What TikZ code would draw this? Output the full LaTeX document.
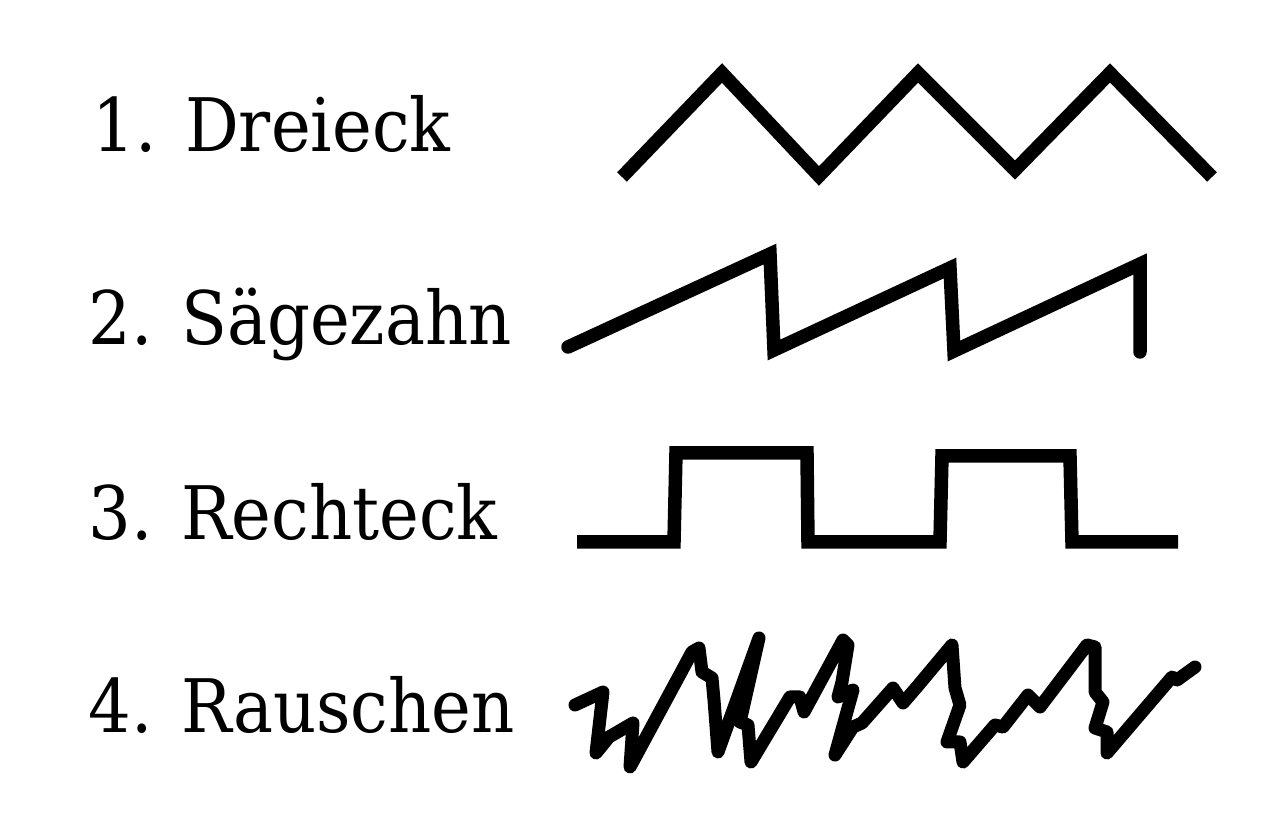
\documentclass[tikz,border=0pt]{standalone}
\usepackage{fontspec}
\setmainfont{DejaVu Serif}
\usepackage{tikz}
\usetikzlibrary{positioning}

\begin{document}
\begin{tikzpicture}[x=0.1mm,y=-0.1mm,every node/.style={anchor=base west,inner sep=0pt,xscale=0.91,transform shape,font=\fontsize{21}{25}\selectfont},wave/.style={line width=1.35mm,line join=miter}]
\useasboundingbox (0,0) rectangle (1282,828);

\node (t1) at (92,152) {1. Dreieck};
\node (t2) at (88,345) {2. S\"agezahn};
\node (t3) at (88,540) {3. Rechteck};
\node (t4) at (88,733) {4. Rauschen};

% Dreieck
\draw[wave] (622,177)--(722,73)--(819,176)--(918,73)--(1015,170)--(1110,73)--(1212,177);
% Saegezahn
\draw[wave,line cap=round] (568,347)--(770,254)--(774,350)--(950,268)--(954,351)--(1140,264)--(1140,352);
% Rechteck
\draw[wave] (577,542)--(674,542)--(676,453)--(807,453)--(808,542)--(940,542)--(942,456)--(1070,456)--(1072,542)--(1178,542);
% Rauschen
\draw[wave,line cap=round,line join=round,line width=1.3mm] (575,705)--(603,692)--(596,753)--(609,737)--(633,723)--(630,767)--(692,652)--(699,648)--(702,672)--(712,678)--(714,700)--(718,752)--(759,638)--(740,722)--(748,725)--(751,762)--(790,697)--(800,697)--(804,712)--(843,640)--(848,645)--(842,682)--(838,697)--(853,690)--(835,755)--(853,727)--(862,723)--(893,688)--(903,703)--(916,688)--(952,645)--(955,688)--(960,705)--(947,742)--(960,742)--(963,762)--(995,725)--(1003,727)--(1028,695)--(1040,707)--(1087,645)--(1095,647)--(1095,692)--(1103,702)--(1095,728)--(1107,732)--(1107,753)--(1172,677)--(1177,680)--(1195,667);
\end{tikzpicture}
\end{document}
